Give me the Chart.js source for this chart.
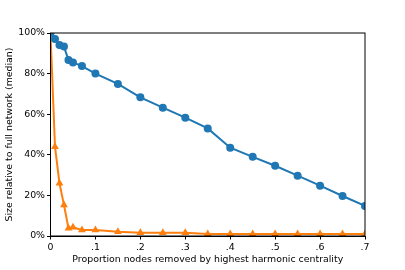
<!DOCTYPE html>
<html>
<head>
<meta charset="utf-8">
<script src="https://cdn.jsdelivr.net/npm/chart.js@4"></script>
<style>
  html, body { margin: 0; padding: 0; background: #fff; }
  #wrap { width: 405px; height: 270px; }
</style>
</head>
<body>
<div id="wrap"><canvas id="chart" width="405" height="270"></canvas></div>
<script>
// доля удалённых узлов
const proportions = [0, 0.01, 0.02, 0.03, 0.04, 0.05, 0.07, 0.1, 0.15, 0.2, 0.25, 0.3, 0.35, 0.4, 0.45, 0.5, 0.55, 0.6, 0.65, 0.7];
// синяя серия (кружки)
const blueValues = [100, 97, 94.1, 93.3, 86.7, 85.5, 83.7, 80, 74.9, 68.3, 63.2, 58.3, 53, 43.5, 39, 34.6, 29.7, 24.8, 19.7, 14.8];
// оранжевая серия (треугольники)
const orangeValues = [100, 44, 26, 15.3, 3.8, 4.3, 3, 2.9, 2.1, 1.6, 1.6, 1.6, 1.0, 1.0, 1.0, 1.0, 1.0, 1.0, 1.0, 1.0];
const xTickLabels = ['0', '.1', '.2', '.3', '.4', '.5', '.6', '.7'];
const xTitle = 'Proportion nodes removed by highest harmonic centrality';
const yTitle = 'Size relative to full network (median)';

const FONT = { family: 'DejaVu Sans', size: 9.4 };

function toPoints(values) {
    return proportions.map((x, i) => ({ x: x, y: values[i] }));
}

// рамка вокруг области графика
const frame = {
    id: 'frame',
    afterDatasetsDraw(chart) {
        const a = chart.chartArea;
        const ctx = chart.ctx;
        ctx.save();
        ctx.strokeStyle = '#000';
        ctx.lineWidth = 1;
        ctx.strokeRect(a.left, a.top, a.right - a.left, a.bottom - a.top);
        ctx.restore();
    }
};

Chart.defaults.font.family = FONT.family;
Chart.defaults.font.size = FONT.size;
Chart.defaults.color = '#000';

new Chart(document.getElementById('chart').getContext('2d'), {
    type: 'line',
    data: {
        datasets: [
            {
                data: toPoints(blueValues),
                borderColor: '#1f77b4',
                backgroundColor: '#1f77b4',
                borderWidth: 2,
                pointStyle: 'circle',
                pointRadius: 4,
                pointBorderWidth: 0,
                clip: 0
            },
            {
                data: toPoints(orangeValues),
                borderColor: '#ff7f0e',
                backgroundColor: '#ff7f0e',
                borderWidth: 2,
                pointStyle: 'triangle',
                pointRadius: 4.5,
                pointBorderWidth: 0,
                clip: 0
            }
        ]
    },
    options: {
        responsive: false,
        animation: false,
        layout: { padding: { top: 33, right: 40, left: 4, bottom: 5 } },
        plugins: { legend: { display: false }, tooltip: { enabled: false } },
        scales: {
            x: {
                type: 'linear',
                min: 0,
                max: 0.7,
                afterBuildTicks: scale => {
                    scale.ticks = xTickLabels.map((_, i) => ({ value: i / 10 }));
                },
                ticks: {
                    callback: (v) => xTickLabels[Math.round(v * 10)],
                    maxRotation: 0,
                    padding: 2,
                    font: FONT
                },
                grid: { drawOnChartArea: false, drawTicks: true, tickLength: 3.5, color: '#000' },
                border: { color: '#000' },
                title: { display: true, text: xTitle, font: FONT, padding: { top: 2, bottom: 0 } },
                afterFit: scale => { scale.height = 29; }
            },
            y: {
                min: 0,
                max: 100,
                ticks: {
                    stepSize: 20,
                    callback: v => v + '%',
                    padding: 2,
                    font: FONT
                },
                grid: { drawOnChartArea: false, drawTicks: true, tickLength: 3.5, color: '#000' },
                border: { color: '#000' },
                title: { display: true, text: yTitle, font: FONT, padding: { top: 0, bottom: 2 } },
                afterFit: scale => { scale.width = 46.5; }
            }
        }
    },
    plugins: [frame]
});
</script>
</body>
</html>
